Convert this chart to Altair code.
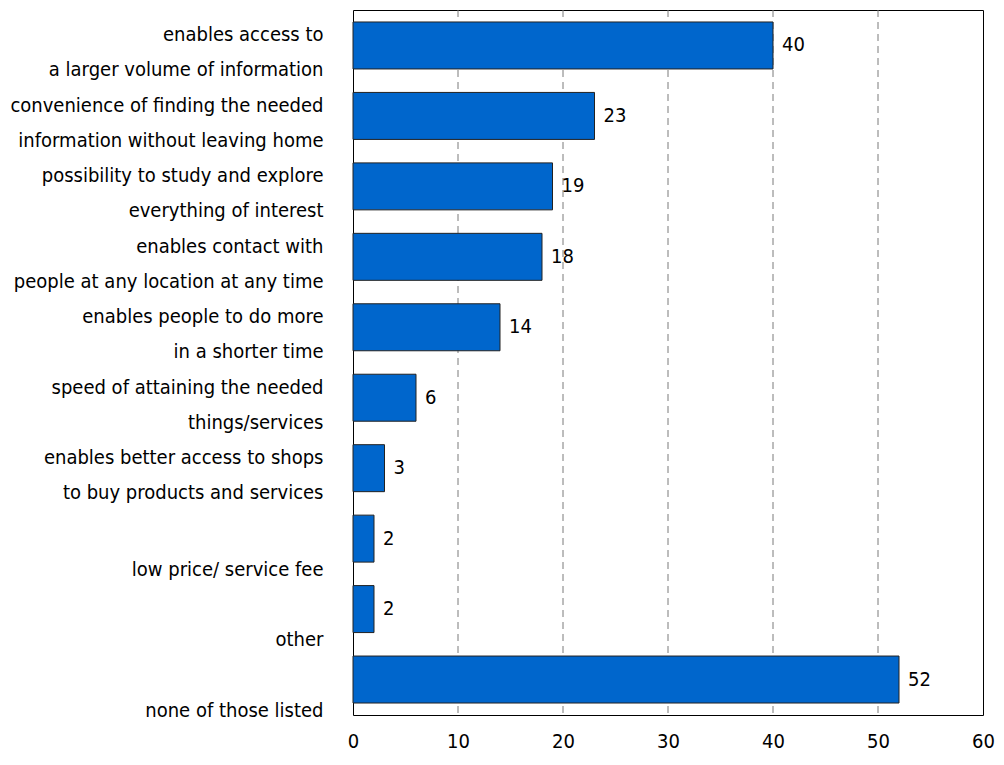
import altair as alt
import pandas as pd

categories = [
    "enables access to\na larger volume of information",
    "convenience of finding the needed\ninformation without leaving home",
    "possibility to study and explore\neverything of interest",
    "enables contact with\npeople at any location at any time",
    "enables people to do more\nin a shorter time",
    "speed of attaining the needed\nthings/services",
    "enables better access to shops\nto buy products and services",
    "low price/ service fee",
    "other",
    "none of those listed",
]
values = [40, 23, 19, 18, 14, 6, 3, 2, 2, 52]
grid_values = [10, 20, 30, 40, 50]
x_ticks = [0, 10, 20, 30, 40, 50, 60]

FONT = "DejaVu Sans Condensed"
FS = 20

df = pd.DataFrame({"category": categories, "value": values})
grid_df = pd.DataFrame({"g": grid_values})

y_enc = alt.Y(
    "category:N",
    sort=categories,
    scale=alt.Scale(paddingInner=0.333, paddingOuter=0.17),
    axis=alt.Axis(
        title=None,
        ticks=False,
        domain=False,
        labelFont=FONT,
        labelFontSize=FS,
        labelColor="#000000",
        labelPadding=30,
        labelLimit=0,
        labelLineHeight=35,
        labelExpr="split(datum.value, '\\n')",
        labelOffset={
            "condition": {"test": "indexof(datum.value, '\\n') < 0", "value": 31},
            "value": -10,
        },
    ),
)

x_scale = alt.Scale(domain=[0, 60], nice=False)

grid = (
    alt.Chart(grid_df)
    .mark_rule(color="#7a7a7a", strokeDash=[7, 5], strokeWidth=1)
    .encode(x=alt.X("g:Q", scale=x_scale))
)

bars = (
    alt.Chart(df)
    .mark_bar(color="#0066CC", stroke="#222222", strokeWidth=1)
    .encode(
        x=alt.X(
            "value:Q",
            scale=x_scale,
            axis=alt.Axis(
                title=None,
                values=x_ticks,
                grid=False,
                ticks=False,
                domain=False,
                labelFont=FONT,
                labelFontSize=FS,
                labelColor="#000000",
                labelPadding=16,
                labelFlush=False,
                labelOverlap=False,
            ),
        ),
        y=y_enc,
    )
)

text = (
    alt.Chart(df)
    .mark_text(align="left", baseline="middle", dx=9, font=FONT, fontSize=FS, color="#000000")
    .encode(x=alt.X("value:Q", scale=x_scale), y=alt.Y("category:N", sort=categories), text="value:Q")
)

chart = (
    alt.layer(grid, bars, text)
    .properties(
        width=630,
        height=705,
        background="#ffffff",
        autosize=alt.AutoSizeParams(type="none"),
        padding={"left": 345, "top": 2, "right": 13, "bottom": 38},
    )
    .configure_view(stroke="#000000", strokeWidth=1)
)

chart.save("out.html", embed_options={"renderer": "svg", "actions": False})
